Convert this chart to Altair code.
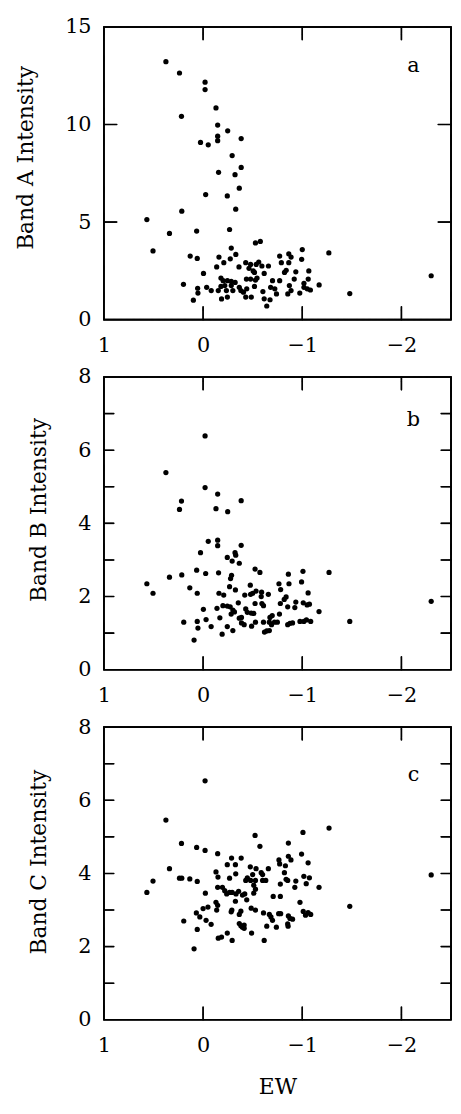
import altair as alt
import numpy as np
import pandas as pd

# ---- data (EW, intensity) ----
points_a = [
    (0.375, 13.22), (0.238, 12.64), (-0.02, 12.17), (-0.02, 11.79), (-0.13, 10.85), (0.218, 10.42),
    (-0.147, 9.97), (-0.248, 9.68), (-0.147, 9.40), (-0.147, 9.17), (0.026, 9.08), (-0.052, 8.96),
    (-0.384, 9.28), (-0.293, 8.41), (-0.156, 7.55), (-0.322, 7.43), (-0.384, 7.80), (-0.365, 6.74),
    (-0.026, 6.41), (-0.244, 6.34), (-0.329, 5.66), (0.215, 5.56), (0.567, 5.13), (0.339, 4.42),
    (0.065, 4.54), (-0.267, 4.62), (0.505, 3.52), (-2.30, 2.25), (-1.479, 1.34),
    (0.198, 1.81), (0.13, 3.26), (0.059, 3.14), (-0.004, 2.37), (0.098, 1.0), (0.055, 1.61),
    (0.052, 1.36), (-0.036, 1.66), (-0.082, 1.49), (-0.186, 1.06), (-0.245, 1.16), (-0.137, 2.70),
    (-0.16, 3.21), (-0.209, 2.92), (-0.274, 3.12), (-0.284, 3.67), (-0.33, 3.34), (-0.362, 2.70),
    (-0.528, 3.93), (-0.577, 4.01), (-0.43, 2.92), (-0.479, 2.83), (-0.463, 2.63), (-0.535, 2.83),
    (-0.561, 2.95), (-0.505, 2.50), (-0.518, 2.42), (-0.593, 2.75), (-0.659, 2.75), (-0.616, 2.37),
    (-0.544, 2.13), (-0.528, 2.03), (-0.479, 2.08), (-0.437, 2.08), (-0.18, 2.13), (-0.202, 2.0),
    (-0.245, 2.0), (-0.284, 1.96), (-0.323, 1.91), (-0.284, 1.75), (-0.219, 1.75), (-0.18, 1.70),
    (-0.153, 1.49), (-0.235, 1.49), (-0.30, 1.49), (-0.365, 1.66), (-0.381, 1.49), (-0.407, 1.41),
    (-0.43, 1.16), (-0.486, 1.16), (-0.44, 1.58), (-0.518, 1.70), (-0.603, 1.44), (-0.616, 1.07),
    (-0.642, 0.70), (-0.675, 1.02), (-0.70, 2.0), (-0.681, 1.66), (-0.723, 1.58), (-0.74, 1.32),
    (-0.772, 2.0), (-0.772, 3.26), (-0.789, 2.92), (-0.821, 2.42), (-0.838, 2.53), (-0.864, 3.37),
    (-0.887, 3.21), (-0.864, 2.92), (-0.87, 1.75), (-0.854, 1.32), (-0.887, 1.49), (-0.919, 2.08),
    (-0.935, 2.45), (-0.975, 1.36), (-0.994, 3.09), (-1.0, 3.59), (-1.017, 1.86), (-1.017, 1.66),
    (-1.05, 1.58), (-1.066, 2.50), (-1.06, 2.08), (-1.082, 1.52), (-1.17, 1.78), (-1.268, 3.42),
]

points_b = [
    (-0.02, 6.39), (0.375, 5.39), (-0.02, 4.98), (-0.147, 4.80), (-0.384, 4.62), (0.218, 4.61),
    (0.238, 4.38), (-0.13, 4.40), (-0.248, 4.32), (-0.052, 3.51), (-0.147, 3.54), (-0.147, 3.39),
    (-0.384, 3.40), (0.026, 3.20), (-0.322, 3.20), (-0.329, 3.13), (-0.244, 3.07), (-0.293, 2.97),
    (-0.365, 2.91), (0.065, 2.72), (-0.026, 2.63), (-0.156, 2.65), (-0.524, 2.75), (-0.573, 2.66),
    (-1.27, 2.66), (-1.007, 2.69), (-0.86, 2.61), (-0.287, 2.58), (-0.277, 2.49), (0.215, 2.59),
    (0.339, 2.53), (0.567, 2.35), (0.505, 2.09), (0.134, 2.24), (0.059, 2.09), (-0.267, 2.27),
    (-0.326, 2.18), (-0.476, 2.31), (-0.16, 2.09), (-0.208, 2.04), (-0.765, 2.35), (-0.782, 2.19),
    (-0.866, 2.35), (-0.993, 2.40), (-1.059, 2.10), (-2.30, 1.87), (-1.479, 1.32), (-0.42, 2.04),
    (-0.479, 2.06), (-0.50, 2.09), (-0.534, 2.15), (-0.59, 2.12), (-0.586, 2.0), (-0.658, 2.06),
    (-0.524, 1.81), (-0.593, 1.81), (-0.609, 1.75), (-0.837, 1.99), (-0.818, 1.92), (-0.779, 1.81),
    (-0.853, 1.72), (-0.925, 1.70), (-0.935, 1.85), (-1.01, 1.83), (-1.049, 1.77), (-1.072, 1.79),
    (-0.355, 1.83), (-0.244, 1.74), (-0.2, 1.75), (-0.273, 1.72), (-0.30, 1.63), (-0.316, 1.58),
    (-0.14, 1.68), (-0.003, 1.65), (-0.169, 1.42), (-0.283, 1.52), (-0.365, 1.41), (-0.387, 1.43),
    (-0.43, 1.66), (-0.446, 1.57), (-0.485, 1.55), (-0.511, 1.54), (-0.387, 1.28), (-0.414, 1.23),
    (-0.489, 1.19), (-0.528, 1.30), (-0.609, 1.30), (-0.674, 1.43), (-0.697, 1.48), (-0.668, 1.30),
    (-0.69, 1.23), (-0.72, 1.30), (-0.749, 1.30), (-0.77, 1.52), (-0.642, 1.06), (-0.619, 1.03),
    (-0.668, 1.07), (-0.853, 1.23), (-0.876, 1.27), (-0.902, 1.28), (-0.977, 1.32), (-1.016, 1.32),
    (-1.042, 1.36), (-1.085, 1.32), (-1.169, 1.59), (0.195, 1.30), (0.059, 1.32), (0.052, 1.14),
    (-0.03, 1.37), (-0.081, 1.18), (-0.244, 1.18), (-0.192, 0.97), (-0.30, 1.07), (0.091, 0.81),
]

points_c = [
    (-0.02, 6.53), (0.375, 5.46), (-1.27, 5.24), (-1.007, 5.12), (-0.524, 5.04), (-0.573, 4.74),
    (-0.86, 4.83), (0.218, 4.82), (0.065, 4.71), (-0.02, 4.63), (-0.147, 4.54), (-0.287, 4.42),
    (-0.384, 4.42), (-0.765, 4.37), (-0.86, 4.47), (-0.993, 4.53), (-0.886, 4.37), (-0.244, 4.24),
    (-0.326, 4.24), (-0.772, 4.26), (-0.83, 4.21), (-1.059, 4.29), (-0.476, 4.18), (-0.534, 4.13),
    (-0.658, 4.13), (0.339, 4.13), (-0.13, 4.04), (-0.586, 4.02), (-0.6, 3.97), (-0.329, 3.99),
    (-0.82, 4.02), (-0.50, 3.97), (-2.30, 3.96), (0.238, 3.87), (0.215, 3.87), (0.134, 3.85),
    (0.059, 3.78), (0.505, 3.79), (0.567, 3.48), (-0.15, 3.90), (-0.267, 3.87), (-0.43, 3.81),
    (-0.446, 3.88), (-0.479, 3.81), (-0.528, 3.81), (-0.632, 3.81), (-0.6, 3.81), (-0.837, 3.84),
    (-0.853, 3.81), (-0.935, 3.79), (-1.016, 3.92), (-1.072, 3.88), (-1.04, 3.72), (-0.779, 3.71),
    (-0.511, 3.68), (-0.147, 3.62), (-0.195, 3.62), (-0.218, 3.53), (-0.238, 3.44), (-0.267, 3.48),
    (-0.293, 3.48), (-0.332, 3.44), (-0.358, 3.51), (-0.42, 3.44), (-0.397, 3.41), (-0.528, 3.57),
    (-0.511, 3.46), (-0.023, 3.46), (-0.925, 3.62), (-1.169, 3.62), (-0.707, 3.37), (-0.779, 3.37),
    (-0.326, 3.24), (-0.44, 3.28), (-0.977, 3.21), (-1.479, 3.10), (-0.13, 3.21), (-0.147, 3.13),
    (-0.137, 3.0), (0.0, 3.04), (-0.049, 3.08), (-0.29, 3.0), (-0.283, 2.95), (-0.381, 2.97),
    (-0.365, 2.88), (-0.485, 3.05), (-0.528, 3.0), (-0.609, 2.92), (-0.668, 2.88), (-0.684, 2.81),
    (-0.7, 2.72), (-0.762, 2.90), (-0.782, 2.90), (-0.86, 2.84), (-0.876, 2.77), (-0.902, 2.75),
    (-0.853, 2.62), (-0.857, 2.56), (-1.01, 2.96), (-1.033, 2.86), (-1.059, 2.93), (-1.085, 2.88),
    (0.068, 2.92), (0.033, 2.81), (-0.03, 2.72), (-0.081, 2.61), (0.195, 2.70), (0.059, 2.47),
    (-0.365, 2.63), (-0.381, 2.57), (-0.397, 2.53), (-0.414, 2.59), (-0.414, 2.50), (-0.642, 2.56),
    (-0.739, 2.53), (-0.489, 2.37), (-0.244, 2.37), (-0.153, 2.23), (-0.186, 2.26), (-0.293, 2.17),
    (-0.616, 2.17), (0.091, 1.94),
]

x_domain = [-2.5, 1]
x_ticks = [1, 0, -1, -2]
y_ticks_a = [0, 5, 10, 15]
y_ticks_bc = [0, 1, 2, 3, 4, 5, 6, 7, 8]
panel_letters = ["a", "b", "c"]
y_titles = ["Band A Intensity", "Band B Intensity", "Band C Intensity"]

FONT = "DejaVu Serif"
FS = 21
TFS = 22
W, H = 351, 296
XT = 13      # x tick length (px)
STEP = 0.5   # spacing of the dots that make up frame and tick lines (px)


def segment(x0, x1, y0, y1, npx):
    """Dots along a straight segment (frame / tick decoration, not data)."""
    n = max(int(npx / STEP), 2)
    return list(zip(np.linspace(x0, x1, n), np.linspace(y0, y1, n)))


def frame_and_ticks(ymax, yticks, tick_len_y):
    dx = (x_domain[1] - x_domain[0]) / W   # data units per px (EW)
    dy = ymax / H                           # data units per px (I)
    xl, xr = x_domain[1], x_domain[0]       # left edge is EW=1, right edge EW=-2.5
    segs = []
    # frame
    segs += segment(xl, xr, 0, 0, W)
    segs += segment(xl, xr, ymax, ymax, W)
    segs += segment(xl, xl, 0, ymax, H)
    segs += segment(xr, xr, 0, ymax, H)
    # y ticks, inward on left and right
    for v in yticks:
        if 0 < v < ymax:
            segs += segment(xl, xl - tick_len_y * dx, v, v, tick_len_y)
            segs += segment(xr, xr + tick_len_y * dx, v, v, tick_len_y)
    # x ticks, inward on top and bottom
    for v in x_ticks:
        if x_domain[0] < v < x_domain[1]:
            segs += segment(v, v, 0, XT * dy, XT)
            segs += segment(v, v, ymax, ymax - XT * dy, XT)
    return pd.DataFrame(segs, columns=["EW", "I"])


def panel(points, ymax, yticks, ylabel_every, letter, ytitle, tick_len_y, letter_y, title_y, show_xtitle):
    df = pd.DataFrame(points, columns=["EW", "I"])
    xscale = alt.Scale(domain=x_domain, reverse=True, nice=False, zero=False)
    yscale = alt.Scale(domain=[0, ymax], nice=False, zero=False)

    xaxis_kw = dict(
        values=x_ticks, format="d", domain=False, ticks=False, grid=False,
        labelFont=FONT, labelFontSize=FS, labelColor="black", labelPadding=15,
        labelFlush=False, labelOverlap=False,
        titleFont=FONT, titleFontSize=TFS, titleFontWeight="normal", titleColor="black",
        titlePadding=22,
    )
    xaxis_kw["title"] = "EW" if show_xtitle else ""
    yaxis_kw = dict(
        values=yticks, format="d", domain=False, ticks=False, grid=False,
        labelFont=FONT, labelFontSize=FS, labelColor="black", labelPadding=13,
        labelFlush=False, labelOverlap=False,
        labelExpr=f"datum.value % {ylabel_every} == 0 ? datum.label : ''",
        title=ytitle, titleFont=FONT, titleFontSize=TFS, titleFontWeight="normal",
        titleColor="black", titlePadding=28, titleY=title_y,
    )

    pts = alt.Chart(df).mark_circle(size=28, color="black", opacity=1).encode(
        x=alt.X("EW:Q", scale=xscale, axis=alt.Axis(**xaxis_kw)),
        y=alt.Y("I:Q", scale=yscale, axis=alt.Axis(**yaxis_kw)),
    )

    lines = alt.Chart(frame_and_ticks(ymax, yticks, tick_len_y)).mark_circle(
        size=2.6, color="black", opacity=1
    ).encode(
        x=alt.X("EW:Q", scale=xscale),
        y=alt.Y("I:Q", scale=yscale),
    )

    lab = alt.Chart(pd.DataFrame({"t": [letter]})).mark_text(
        font=FONT, fontSize=FS, color="black", align="center", baseline="alphabetic"
    ).encode(text="t:N", x=alt.value(W - 38), y=alt.value(letter_y))

    return alt.layer(pts, lines, lab).properties(width=W, height=H)


pa = panel(points_a, 15, y_ticks_a, 5, panel_letters[0], y_titles[0], 13, 46, 132, False)
pb = panel(points_b, 8, y_ticks_bc, 2, panel_letters[1], y_titles[1], 10, 50, 134, False)
pc = panel(points_c, 8, y_ticks_bc, 2, panel_letters[2], y_titles[2], 10, 55, 136, True)

chart = alt.vconcat(pa, pb, pc, spacing=58, bounds="flush").properties(
    padding={"left": 5, "top": 1, "right": 0, "bottom": 0},
    background="white",
).configure_view(stroke="black", strokeWidth=1.6)

chart.save("out.html", embed_options={"renderer": "svg", "actions": False})
